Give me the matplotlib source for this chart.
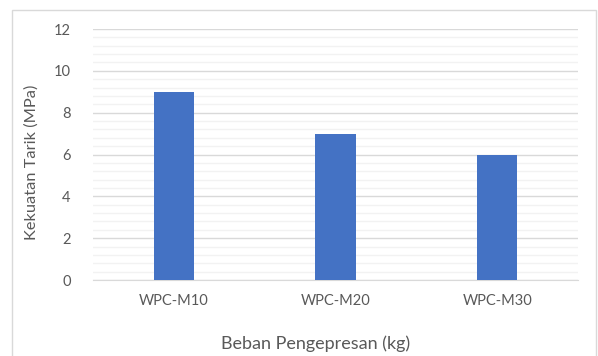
import matplotlib
matplotlib.use("Agg")
import matplotlib.pyplot as plt
from matplotlib.patches import Rectangle
from matplotlib.ticker import MultipleLocator

categories = ["WPC-M10", "WPC-M20", "WPC-M30"]
values = [9, 7, 6]
yticks = [0, 2, 4, 6, 8, 10, 12]

plt.rcParams['font.family'] = ['Lato', 'DejaVu Sans']
W, H = 598, 356
fig = plt.figure(figsize=(W/100, H/100), dpi=100)
fig.patch.set_facecolor('white')

# outer chart border
fig.patches.append(Rectangle((12/W, -0.05), (596-12)/W, (H-10)/H + 0.05, transform=fig.transFigure,
                             fill=False, edgecolor='#d9d9d9', linewidth=1.0))

left, right, top, bottom = 93, 578, 29, 280
ax = fig.add_axes([left/W, 1-bottom/H, (right-left)/W, (bottom-top)/H])
x = range(len(categories))
ax.bar(x, values, width=0.25, color='#4472C4', zorder=3)
ax.set_xlim(-0.5, len(categories)-0.5)
ax.set_ylim(0, 12)
ax.set_yticks(yticks)
ax.yaxis.set_minor_locator(MultipleLocator(0.4))
ax.set_xticks(list(x))
ax.set_xticklabels(categories)
ax.grid(axis='y', which='major', color='#d9d9d9', linewidth=1.0, zorder=0)
ax.grid(axis='y', which='minor', color='#f2f2f2', linewidth=1.0, zorder=0)
for s in ['top', 'right', 'left']:
    ax.spines[s].set_visible(False)
ax.spines['bottom'].set_color('#d9d9d9')
ax.tick_params(axis='both', which='both', length=0, colors='#595959', labelsize=10.5)
ax.tick_params(axis='y', pad=16)
ax.tick_params(axis='x', pad=10)

fig.text(32/W, 1-162/H, "Kekuatan Tarik (MPa)", rotation=90, ha='center', va='center',
         fontsize=11.8, color='#595959')
fig.text(316/W, 1-344/H, "Beban Pengepresan (kg)", ha='center', va='center',
         fontsize=13, color='#595959')

fig.savefig("out.png", dpi=100)
